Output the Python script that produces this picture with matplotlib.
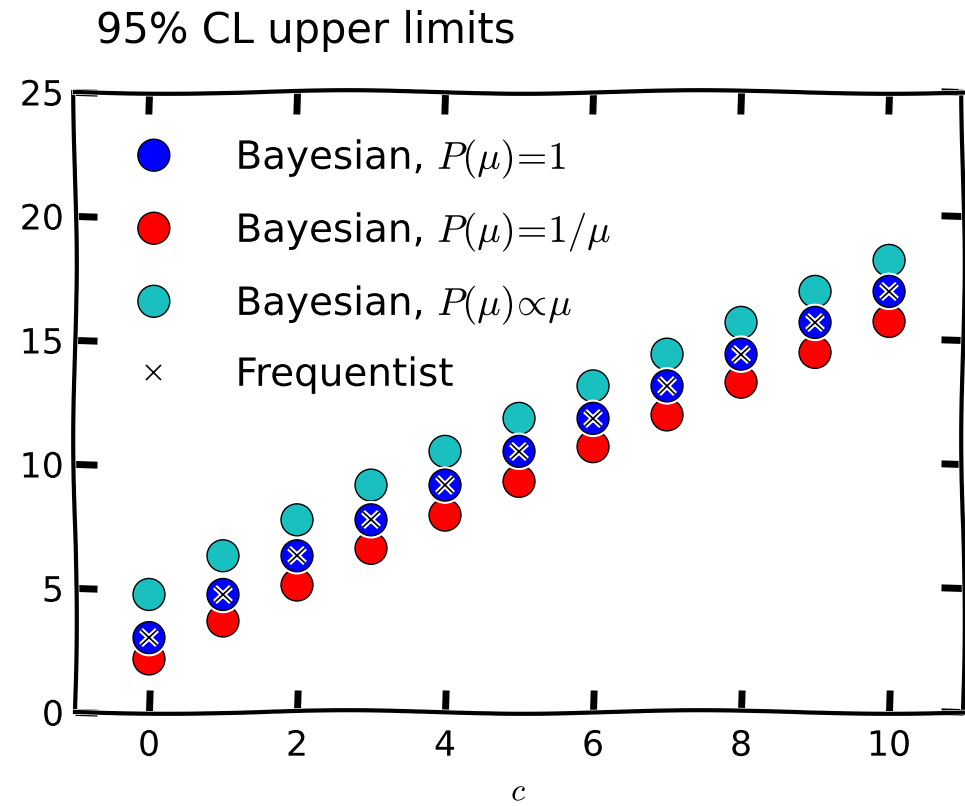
import numpy as np
import matplotlib
matplotlib.use("Agg")
import matplotlib.pyplot as plt

# values
c = [0, 1, 2, 3, 4, 5, 6, 7, 8, 9, 10]
flat_prior = [3.0, 4.74, 6.3, 7.75, 9.15, 10.51, 11.84, 13.15, 14.43, 15.71, 16.96]
inv_prior = [2.14, 3.67, 5.12, 6.6, 7.94, 9.3, 10.7, 11.98, 13.3, 14.5, 15.75]
lin_prior = [4.74, 6.3, 7.75, 9.15, 10.51, 11.84, 13.15, 14.43, 15.71, 16.96, 18.21]
frequentist = [3.0, 4.74, 6.3, 7.75, 9.15, 10.51, 11.84, 13.15, 14.43, 15.71, 16.96]
yticks = [0, 5, 10, 15, 20, 25]
xticks = [0, 2, 4, 6, 8, 10]

with plt.xkcd(scale=1.8, length=400, randomness=2):
    plt.rcParams['font.family'] = ['DejaVu Sans']
    plt.rcParams['mathtext.fontset'] = 'cm'

    fig = plt.figure(figsize=(9.65, 8.07), dpi=100)
    ax = fig.add_axes([0.0777, 0.1177, 0.9203, 0.7683])

    pts = []
    pts += ax.plot(c, inv_prior, 'o', color='red', mec='black', mew=1, ms=23,
                   label=r'Bayesian, $P(\mu)\!=\!1/\mu$', zorder=3)
    pts += ax.plot(c, lin_prior, 'o', color='#1abfbf', mec='black', mew=1, ms=23,
                   label=r'Bayesian, $P(\mu)\!\propto\!\mu$', zorder=3)
    pts += ax.plot(c, flat_prior, 'o', color='blue', mec='black', mew=1, ms=23,
                   label=r'Bayesian, $P(\mu)\!=\!1$', zorder=4)
    pts += ax.plot(c, frequentist, 'x', color='black', mew=1.2, ms=11,
                   label='Frequentist', zorder=5)
    for p in pts:
        p.set_sketch_params(None)

    ax.set_xlim(-1, 11)
    ax.set_ylim(0, 25)
    ax.set_xticks(xticks)
    ax.set_yticks(yticks)
    ax.tick_params(direction='in', length=16, width=5, top=True, right=True,
                   labelsize=25)
    ax.tick_params(axis='x', pad=12)
    ax.tick_params(axis='y', pad=8)
    for s in ax.spines.values():
        s.set_linewidth(3)

    ax.set_xlabel('$c$', fontsize=23, labelpad=10)

    h, l = ax.get_legend_handles_labels()
    order = [2, 0, 1, 3]
    leg = ax.legend([h[i] for i in order], [l[i] for i in order],
                    loc='upper left', bbox_to_anchor=(0.045, 0.928), frameon=False,
                    fontsize=28, numpoints=1, handlelength=2, handletextpad=1.1,
                    labelspacing=0.74, borderaxespad=0, borderpad=0)
    for lh in leg.legend_handles:
        lh.set_sketch_params(None)

    fig.text(0.1, 0.962, '95% CL upper limits', fontsize=30, va='center',
             ha='left', path_effects=[])

    fig.savefig('out.png', dpi=100)
